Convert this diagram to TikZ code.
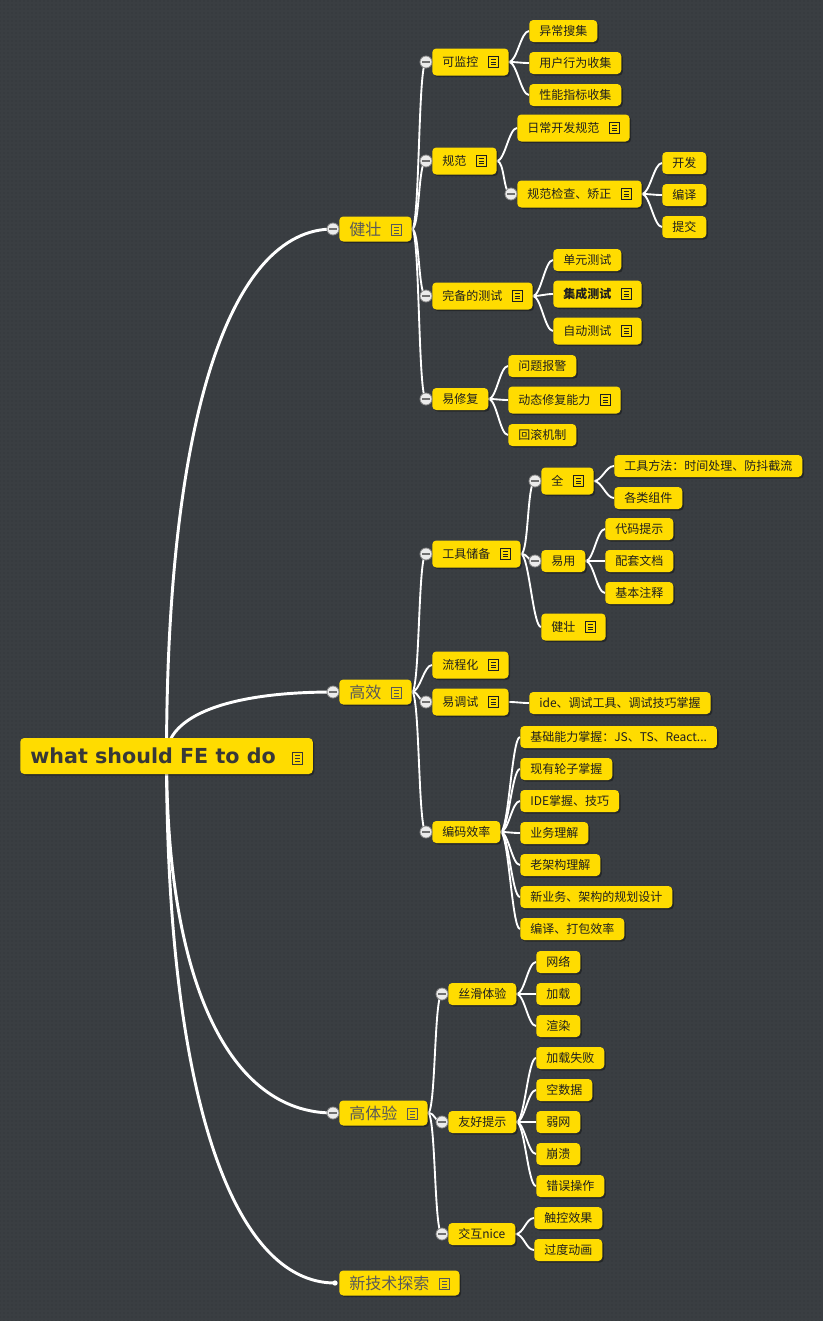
\documentclass[tikz,border=0pt]{standalone}
\usepackage{fontspec}
\setmainfont{Noto Sans CJK SC}
\newfontfamily\rootfont{DejaVu Sans}
\usetikzlibrary{shadows,patterns}
\definecolor{mapbg}{HTML}{3A3E42}
\definecolor{mapyellow}{HTML}{FFDC00}
\definecolor{foldgray}{HTML}{8C8C8C}
\pgfdeclarelayer{back}
\pgfdeclarelayer{lines}
\pgfsetlayers{back,lines,main}

\newcommand{\note}{\hspace{7.5pt}\tikz[baseline=0pt,x=1pt,y=1pt,sharp corners,line width=0.75pt]{\draw (0,-0.6) rectangle (7,7.9); \foreach \ly in {1.5,3.6,5.7} \draw (1.6,\ly) -- (5.4,\ly);}\hspace{2.5pt}}

\begin{document}
\begin{tikzpicture}[x=0.75pt,y=-0.75pt,
  box/.style={fill=mapyellow, rounded corners=3pt, anchor=west, inner xsep=7.5pt, inner ysep=0pt,
    drop shadow={shadow xshift=1.2pt, shadow yshift=-1.2pt, fill=black, opacity=0.35}},
  topic/.style={box, font=\fontsize{12}{14}\selectfont, text=black!65, minimum height=18.75pt},
  sub/.style={box, font=\fontsize{9}{11}\selectfont, text=black!88, minimum height=16.5pt},
  subn/.style={sub, minimum height=20.25pt},
  rootbox/.style={box, font=\rootfont\bfseries\fontsize{15.5}{18}\selectfont, text=black!78, minimum height=27pt},
  trunk/.style={draw=white, line width=2.2pt},
  branch/.style={draw=white, line width=1.4pt, out=0, in=180, distance=6pt},
  fold/.style={circle, fill=white!92!black, draw=foldgray, line width=0.6pt, minimum size=9pt, inner sep=0pt,
    path picture={\draw[foldgray!80!black, line width=1.1pt] ([xshift=-3pt]path picture bounding box.center) -- ([xshift=3pt]path picture bounding box.center);}},
  enddot/.style={circle, fill=white, minimum size=4pt, inner sep=0pt}]

\useasboundingbox (0,0) rectangle (823,1321);
\begin{pgfonlayer}{back}
\fill[mapbg] (0,0) rectangle (823,1321);
\fill[pattern=dots, pattern color=black, opacity=0.18] (0,0) rectangle (823,1321);
\end{pgfonlayer}

% fold buttons
\coordinate (c-jz) at (333,229);
\coordinate (c-gx) at (333,692);
\coordinate (c-gty) at (333,1113);
\coordinate (d-xjs) at (335,1283);
\coordinate (c-kjk) at (426,62);
\coordinate (c-gf) at (426,161);
\coordinate (c-gfjc) at (511,194);
\coordinate (c-wb) at (426,296);
\coordinate (c-yxf) at (426,399);
\coordinate (c-gjcb) at (426,554);
\coordinate (c-quan) at (535,481);
\coordinate (c-yy) at (535,561);
\coordinate (c-yts) at (426,702);
\coordinate (c-bmxl) at (426,832);
\coordinate (c-shty) at (442,994);
\coordinate (c-yhts) at (442,1122);
\coordinate (c-jhn) at (442,1234);

\node[rootbox] (root) at (20,756) {what should FE to do\hspace{5pt}\note};

% 健壮
\node[topic] (jz) at (339,229) {健壮\note};
\node[subn] (kjk) at (432,62) {可监控\note};
\node[sub] (ycsj) at (529,31) {异常搜集};
\node[sub] (yhxw) at (529,63) {用户行为收集};
\node[sub] (xnzb) at (529,95) {性能指标收集};
\node[subn] (gf) at (432,161) {规范\note};
\node[subn] (rckf) at (517,128) {日常开发规范\note};
\node[subn] (gfjc) at (517,194) {规范检查、矫正\note};
\node[sub] (kf) at (662,163) {开发};
\node[sub] (by) at (662,195) {编译};
\node[sub] (tj) at (662,227) {提交};
\node[subn] (wb) at (432,296) {完备的测试\note};
\node[sub] (dycs) at (553,260) {单元测试};
\node[subn, font=\fontsize{9}{11}\selectfont\bfseries] (jccs) at (553,294) {集成测试\note};
\node[subn] (zdcs) at (553,331) {自动测试\note};
\node[sub] (yxf) at (432,399) {易修复};
\node[sub] (wtbj) at (508,366) {问题报警};
\node[subn] (dtxf) at (508,400) {动态修复能力\note};
\node[sub] (hgjz) at (508,435) {回滚机制};

% 高效
\node[topic] (gx) at (339,692) {高效\note};
\node[subn] (gjcb) at (432,554) {工具储备\note};
\node[subn] (quan) at (541,481) {全\note};
\node[sub] (gjff) at (614,466) {工具方法：时间处理、防抖截流};
\node[sub] (glzj) at (614,498) {各类组件};
\node[sub] (yy) at (541,561) {易用};
\node[sub] (dmts) at (605,529) {代码提示};
\node[sub] (ptwd) at (605,561) {配套文档};
\node[sub] (jbzs) at (605,593) {基本注释};
\node[subn] (gjjz) at (541,627) {健壮\note};
\node[subn] (lch) at (432,665) {流程化\note};
\node[subn] (yts) at (432,702) {易调试\note};
\node[sub] (ide) at (529,703) {ide、调试工具、调试技巧掌握};
\node[sub] (bmxl) at (432,832) {编码效率};
\node[sub] (jcnl) at (520,737) {基础能力掌握：JS、TS、React...};
\node[sub] (xylz) at (520,769) {现有轮子掌握};
\node[sub] (ideh) at (520,801) {IDE掌握、技巧};
\node[sub] (ywlj) at (520,833) {业务理解};
\node[sub] (ljg) at (520,865) {老架构理解};
\node[sub] (xyw) at (520,897) {新业务、架构的规划设计};
\node[sub] (bydb) at (520,929) {编译、打包效率};

% 高体验
\node[topic] (gty) at (339,1113) {高体验\note};
\node[sub] (shty) at (448,994) {丝滑体验};
\node[sub] (wl) at (536,962) {网络};
\node[sub] (jzai) at (536,994) {加载};
\node[sub] (xr) at (536,1026) {渲染};
\node[sub] (yhts) at (448,1122) {友好提示};
\node[sub] (jzsb) at (536,1058) {加载失败};
\node[sub] (ksj) at (536,1090) {空数据};
\node[sub] (rw) at (536,1122) {弱网};
\node[sub] (bk) at (536,1154) {崩溃};
\node[sub] (cwcz) at (536,1186) {错误操作};
\node[sub] (jhn) at (448,1234) {交互nice};
\node[sub] (ckxg) at (534,1218) {触控效果};
\node[sub] (gddh) at (534,1250) {过度动画};

\node[topic] (xjs) at (339,1283) {新技术探索\note};

\begin{pgfonlayer}{lines}
\draw[trunk] (root.center) .. controls +(0,-337) and +(-103,0) .. (c-jz);
\draw[trunk] (root.center) .. controls +(0,-41) and +(-103,0) .. (c-gx);
\draw[trunk] (root.center) .. controls +(0,228) and +(-103,0) .. (c-gty);
\draw[trunk] (root.center) .. controls +(0,337) and +(-103,0) .. (d-xjs);

\foreach \a/\b in {jz/c-kjk, jz/c-gf, jz/c-wb, jz/c-yxf,
    kjk/ycsj.west, kjk/yhxw.west, kjk/xnzb.west,
    gf/rckf.west, gf/c-gfjc, gfjc/kf.west, gfjc/by.west, gfjc/tj.west,
    wb/dycs.west, wb/jccs.west, wb/zdcs.west,
    yxf/wtbj.west, yxf/dtxf.west, yxf/hgjz.west,
    gx/c-gjcb, gx/lch.west, gx/c-yts, gx/c-bmxl,
    gjcb/c-quan, gjcb/c-yy, gjcb/gjjz.west,
    quan/gjff.west, quan/glzj.west,
    yy/dmts.west, yy/ptwd.west, yy/jbzs.west,
    yts/ide.west,
    bmxl/jcnl.west, bmxl/xylz.west, bmxl/ideh.west, bmxl/ywlj.west,
    bmxl/ljg.west, bmxl/xyw.west, bmxl/bydb.west,
    gty/c-shty, gty/c-yhts, gty/c-jhn,
    shty/wl.west, shty/jzai.west, shty/xr.west,
    yhts/jzsb.west, yhts/ksj.west, yhts/rw.west, yhts/bk.west, yhts/cwcz.west,
    jhn/ckxg.west, jhn/gddh.west}
  \draw[branch] (\a.east) to (\b);
\end{pgfonlayer}

\foreach \c in {c-jz, c-gx, c-gty, c-kjk, c-gf, c-gfjc, c-wb, c-yxf, c-gjcb,
    c-quan, c-yy, c-yts, c-bmxl, c-shty, c-yhts, c-jhn}
  \node[fold] at (\c) {};
\node[enddot] at (d-xjs) {};

\end{tikzpicture}
\end{document}
